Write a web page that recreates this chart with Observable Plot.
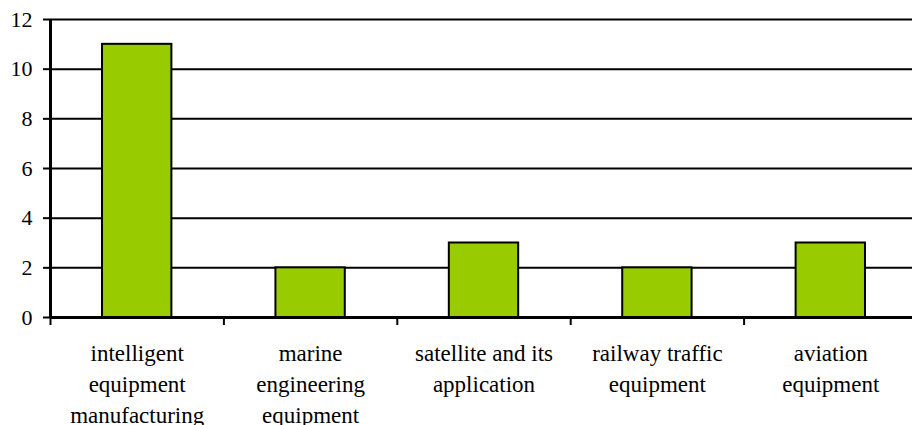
<!DOCTYPE html>
<html>
<head>
<meta charset="utf-8">
<script src="https://cdn.jsdelivr.net/npm/d3@7"></script>
<script src="https://cdn.jsdelivr.net/npm/@observablehq/plot@0.6"></script>
<style>
  html, body { margin: 0; padding: 0; background: #fff; }
  svg { display: block; }
  svg, svg text, svg tspan { font-family: "Liberation Serif", serif !important; }
</style>
</head>
<body>
<div id="chart"></div>
<script>
// Number of projects per equipment sector
const categories = [
  "intelligent\nequipment\nmanufacturing",
  "marine\nengineering\nequipment",
  "satellite and its\napplication",
  "railway traffic\nequipment",
  "aviation\nequipment"
];
const values = [11, 2, 3, 2, 3];
const yTicks = [0, 2, 4, 6, 8, 10, 12];
const barColor = "#99cc00";
const serif = "Liberation Serif";

const n = categories.length;
const data = categories.map((category, i) => ({ category, index: i, value: values[i] }));
const slotEdges = d3.range(n + 1);                 // tick marks between categories
const slotCenters = data.map(d => d.index + 0.5);  // label positions

const chart = Plot.plot({
  width: 912,
  height: 425,
  marginLeft: 50,
  marginRight: 0,
  marginTop: 19,
  marginBottom: 108,
  style: { background: "#fff", color: "#000", overflow: "hidden", fontFamily: serif },
  x: { domain: [0, n], range: [50, 917], label: null },
  y: { domain: [0, 12], label: null },
  marks: [
    Plot.ruleY(yTicks, { stroke: "#000", strokeWidth: 2 }),
    Plot.rectY(data, {
      x1: d => d.index + 0.3,
      x2: d => d.index + 0.7,
      y: "value",
      fill: barColor,
      stroke: "#000",
      strokeWidth: 2
    }),
    Plot.ruleX([0], { stroke: "#000", strokeWidth: 3 }),
    Plot.ruleY([0], { stroke: "#000", strokeWidth: 3 }),
    Plot.axisY({
      ticks: yTicks,
      tickSize: 7,
      tickPadding: 11,
      fontSize: 22,
      fontFamily: serif,
      strokeWidth: 2,
      label: null
    }),
    Plot.axisX({
      ticks: slotEdges,
      tickSize: 8,
      strokeWidth: 2,
      tickFormat: () => "",
      label: null
    }),
    Plot.axisX({
      ticks: slotCenters,
      tickSize: 0,
      tickPadding: 21,
      fontSize: 23,
      fontFamily: serif,
      lineHeight: 1.35,
      tickFormat: v => categories[Math.floor(v)],
      label: null
    })
  ]
});

// Serif typeface throughout the chart
chart.setAttribute("font-family", serif);
d3.select(chart).selectAll("g, text, tspan")
  .filter(function () { return this.hasAttribute("font-family") || this.tagName !== "g"; })
  .attr("font-family", serif)
  .style("font-family", serif);

document.getElementById("chart").append(chart);
</script>
</body>
</html>
